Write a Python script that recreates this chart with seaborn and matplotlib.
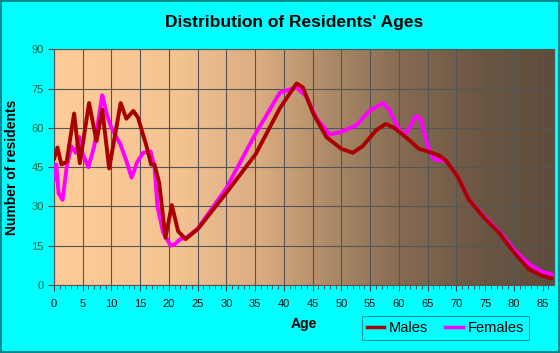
import numpy as np
import pandas as pd
import matplotlib
matplotlib.use('Agg')
import matplotlib.pyplot as plt
import seaborn as sns
from matplotlib.colors import LinearSegmentedColormap
from matplotlib.lines import Line2D

# values
male_age = [0, 0.6, 1.3, 2.2, 3.5, 4.5, 6.1, 7.4, 8.4, 9.6, 11.6, 12.6, 13.8, 14.6,
            16.1, 16.9, 17.5, 18.3, 19.4, 20.5, 21.6, 22.9, 25.1, 30.1, 35.1, 39.3,
            42.2, 43.3, 45.1, 47.4, 50, 52, 53.7, 56, 57.7, 59.2, 61.2, 63.5, 65,
            67, 68.2, 70.2, 72.2, 74.9, 77.4, 80, 82.6, 84.9, 86.6]
male_val = [48, 52.5, 46, 47, 65.5, 46.5, 69.5, 55, 67, 44.5, 69.5, 63.5, 66.5, 64,
            53, 46, 46, 39, 18, 30.5, 20.5, 17.5, 21.5, 35.5, 50, 67.5,
            77, 75.5, 65.5, 56.5, 52, 50.5, 53, 59, 61.5, 60, 56.5, 52, 51,
            49.5, 47.5, 41.5, 32.5, 25.5, 20, 12.5, 6, 3.5, 2.5]

female_age = [0, 0.4, 0.8, 1.5, 2.2, 3, 3.8, 4.4, 5, 6, 7, 8.4, 9.2, 10, 11.5, 12.5,
              13.5, 14.5, 15.5, 16.8, 17.5, 18, 19, 20.3, 21, 22, 23, 25, 30, 35,
              39.3, 42.2, 43.9, 45.7, 48, 50, 52.6, 54.9, 57.2, 58.3, 60.1, 61.1,
              63, 63.8, 65, 66.1, 67.6, 68.2, 70.2, 72.2, 74.9, 77.4, 80, 82.6,
              84.9, 86.6]
female_val = [40, 46, 35, 32.5, 45, 53, 50.5, 56.5, 50, 45, 53, 72.5, 65, 60, 54, 48,
              41, 47, 50.5, 51, 45, 30, 20, 15, 15.5, 17.5, 18, 21.5, 37, 57.5,
              73.5, 75.5, 72, 63.5, 57.5, 58.5, 61, 66.5, 69.5, 67, 59, 57.5,
              64.5, 63.5, 53, 48, 47.5, 47.5, 41.5, 32.5, 26, 20.5, 13.5, 8,
              5, 4]

df = pd.concat([
    pd.DataFrame({'Age': male_age, 'Residents': male_val, 'Sex': 'Males'}),
    pd.DataFrame({'Age': female_age, 'Residents': female_val, 'Sex': 'Females'}),
])

plt.rcParams['font.family'] = ['Liberation Sans', 'DejaVu Sans']

fig = plt.figure(figsize=(5.6, 3.53), dpi=100, facecolor='#00ffff',
                 edgecolor='#008b8b', linewidth=1.5)
ax = fig.add_axes([0.0964, 0.193, 0.8929, 0.667])

# gradient background
bg = LinearSegmentedColormap.from_list('bg', [
    (0.0, '#ffcc99'), (0.25, '#f3c391'), (0.42, '#d8aa80'),
    (0.55, '#ad8a68'), (0.7, '#846a52'), (0.85, '#6c5744'), (1.0, '#5e4c3c')])
ax.imshow(np.linspace(0, 1, 256).reshape(1, -1), cmap=bg, aspect='auto',
          extent=[0, 1, 0, 1], transform=ax.transAxes, zorder=0)

sns.lineplot(data=df, x='Age', y='Residents', hue='Sex', ax=ax,
             palette={'Males': '#aa0000', 'Females': '#ff00ff'},
             hue_order=['Females', 'Males'], linewidth=2.8, zorder=3,
             sort=False, estimator=None, legend=False,
             solid_joinstyle='round', solid_capstyle='round')

ax.set_xlim(0, 87)
ax.set_ylim(0, 90)
ax.set_xticks(range(0, 86, 5))
ax.set_xticks(range(0, 87), minor=True)
ax.set_yticks(range(0, 91, 15))
ax.grid(True, color='#555555', linewidth=0.8, zorder=1)
for s in ax.spines.values():
    s.set_color('#555555')
    s.set_linewidth(0.8)
ax.tick_params(axis='x', which='major', length=4, color='#444444',
               labelsize=8, pad=6, labelcolor='#111111')
ax.tick_params(axis='x', which='minor', length=3, color='#444444')
ax.tick_params(axis='y', length=4, color='#444444', labelsize=8,
               labelcolor='#226644')

ax.set_xlabel('Age', fontsize=10, fontweight='bold', labelpad=6)
ax.set_ylabel('Number of residents', fontsize=10, fontweight='bold', labelpad=9)
fig.text(0.525, 0.935, "Distribution of Residents' Ages", ha='center', va='center',
         fontsize=12.5, fontweight='bold')

# legend
handles = [Line2D([], [], color='#aa0000', lw=2.5),
           Line2D([], [], color='#ff00ff', lw=2.5)]
leg = fig.legend(handles, ['Males', 'Females'], loc='center',
                 bbox_to_anchor=(0.795, 0.07), ncol=2, fontsize=10.5,
                 frameon=True, fancybox=False, handlelength=1.2,
                 handletextpad=0.3, columnspacing=1.2, borderpad=0.35)
leg.get_frame().set_edgecolor('#008080')
leg.get_frame().set_facecolor('#00ffff')
leg.get_frame().set_linewidth(0.8)

fig.savefig('out.png', dpi=100, facecolor='#00ffff', edgecolor='#008b8b')
